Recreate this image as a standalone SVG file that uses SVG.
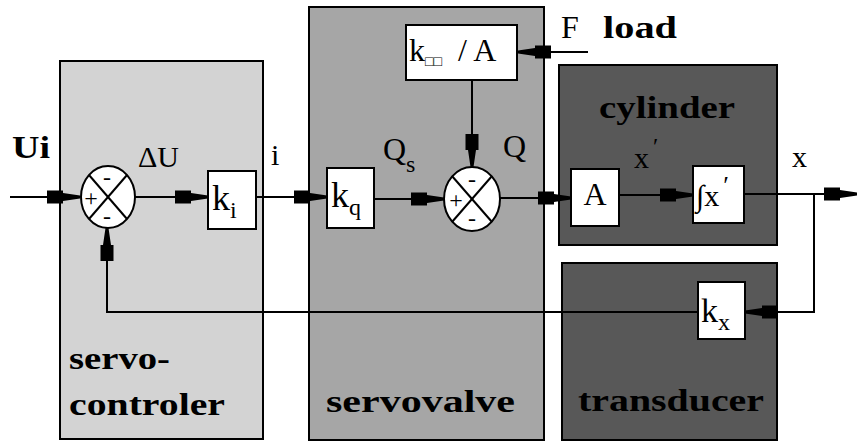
<svg xmlns="http://www.w3.org/2000/svg" width="859" height="443" viewBox="0 0 859 443">
<defs>
<style>
.grp{stroke:#000;stroke-width:2}
.blk{fill:#fff;stroke:#000;stroke-width:2}
.sum{fill:#fff;stroke:#000;stroke-width:2}
.t{font-family:'Liberation Serif','Times New Roman',serif;fill:#000}
.b{font-weight:bold}
.ln{fill:none;stroke:#000;stroke-width:2}
.arr{marker-end:url(#ah)}
</style>
<marker id="ah" markerUnits="userSpaceOnUse" viewBox="-36 -8 38 16" markerWidth="38" markerHeight="16" refX="0" refY="0" orient="auto">
<path d="M0,-1.5 L-17,-4 L-17,-6.5 L-33,-6.5 L-33,6.5 L-17,6.5 L-17,4 L0,1.5 Z" fill="#000"/>
</marker>
</defs>
<rect width="859" height="443" fill="#fff"/>

<g id="servo-controler">
<rect class="grp" x="60" y="61" width="203" height="378" fill="#d3d3d3"/>
<text class="t b" x="69" y="369" font-size="31" textLength="101" lengthAdjust="spacingAndGlyphs">servo-</text>
<text class="t b" x="69" y="415" font-size="31" textLength="156" lengthAdjust="spacingAndGlyphs">controler</text>
</g>
<g id="servovalve">
<rect class="grp" x="309" y="7" width="235" height="433" fill="#a6a6a6"/>
<text class="t b" x="326" y="412" font-size="31" textLength="189" lengthAdjust="spacingAndGlyphs">servovalve</text>
</g>
<g id="cylinder">
<rect class="grp" x="559" y="65" width="218" height="180" fill="#585858"/>
<text class="t b" x="599" y="118" font-size="32" textLength="136" lengthAdjust="spacingAndGlyphs">cylinder</text>
</g>
<g id="transducer">
<rect class="grp" x="562" y="263" width="215" height="177" fill="#585858"/>
<text class="t b" x="578" y="411" font-size="31" textLength="186" lengthAdjust="spacingAndGlyphs">transducer</text>
</g>

<g id="sum1">
<ellipse class="sum" cx="108" cy="197" rx="27" ry="31"/>
<line class="ln" x1="89" y1="175" x2="127" y2="219" stroke-width="1.5"/>
<line class="ln" x1="127" y1="175" x2="89" y2="219" stroke-width="1.5"/>
<text class="t" x="91" y="206" font-size="24" text-anchor="middle">+</text>
<text class="t" x="107" y="185" font-size="24" text-anchor="middle">-</text>
<text class="t" x="107" y="224" font-size="24" text-anchor="middle">-</text>
</g>
<g id="sum2">
<ellipse class="sum" cx="472" cy="199" rx="28" ry="32"/>
<line class="ln" x1="452" y1="176" x2="492" y2="222" stroke-width="1.5"/>
<line class="ln" x1="492" y1="176" x2="452" y2="222" stroke-width="1.5"/>
<text class="t" x="456" y="208" font-size="24" text-anchor="middle">+</text>
<text class="t" x="472" y="187" font-size="24" text-anchor="middle">-</text>
<text class="t" x="472" y="226" font-size="24" text-anchor="middle">-</text>
</g>

<g id="ki">
<rect class="blk" x="208" y="171" width="48" height="58"/>
<text class="t" x="212" y="210" font-size="36">k<tspan font-size="24" dy="8">i</tspan></text>
</g>
<g id="kq">
<rect class="blk" x="327" y="168" width="47" height="60"/>
<text class="t" x="331" y="207" font-size="36">k<tspan font-size="24" dy="8">q</tspan></text>
</g>
<g id="kba-A">
<rect class="blk" x="406" y="25" width="111" height="55"/>
<text class="t" x="409" y="61" font-size="32">k<tspan font-size="14" dy="5">□□</tspan><tspan x="458" dy="-5">/ A</tspan></text>
</g>
<g id="A">
<rect class="blk" x="571" y="169" width="48" height="57"/>
<text class="t" x="595" y="205" font-size="32" text-anchor="middle">A</text>
</g>
<g id="int">
<rect class="blk" x="693" y="166" width="51" height="57"/>
<text class="t" x="696" y="206" font-size="30">∫x<tspan font-size="26" dx="4" dy="-12">′</tspan></text>
</g>
<g id="kx">
<rect class="blk" x="698" y="282" width="47" height="57"/>
<text class="t" x="701" y="322" font-size="34">k<tspan font-size="24" dy="8">x</tspan></text>
</g>

<g id="connectors">
<path class="ln arr" d="M10,197 H80"/>
<path class="ln arr" d="M135,197 H208"/>
<path class="ln arr" d="M256,197 H327"/>
<path class="ln arr" d="M374,199 H444"/>
<path class="ln arr" d="M500,198 H571"/>
<path class="ln arr" d="M619,195 H693"/>
<path class="ln arr" d="M744,194 H857"/>
<path class="ln arr" d="M814,194 V312 H745"/>
<path class="ln arr" d="M698,312 H107 V228"/>
<path class="ln arr" d="M472,80 V167"/>
<path class="ln arr" d="M588,52 H518"/>
</g>

<g id="labels">
<text class="t b" x="12" y="158" font-size="32" textLength="38" lengthAdjust="spacingAndGlyphs">Ui</text>
<text class="t" x="138" y="167" font-size="30">ΔU</text>
<text class="t" x="271" y="165" font-size="30">i</text>
<text class="t" x="383" y="160" font-size="32">Q<tspan font-size="24" dy="12">s</tspan></text>
<text class="t" x="503" y="157" font-size="32">Q</text>
<text class="t" x="634" y="168" font-size="30">x<tspan font-size="24" dx="4" dy="-14">′</tspan></text>
<text class="t" x="792" y="167" font-size="30">x</text>
<text class="t" x="561" y="38" font-size="32">F</text>
<text class="t b" x="603" y="38" font-size="32" textLength="74" lengthAdjust="spacingAndGlyphs">load</text>
</g>
</svg>
